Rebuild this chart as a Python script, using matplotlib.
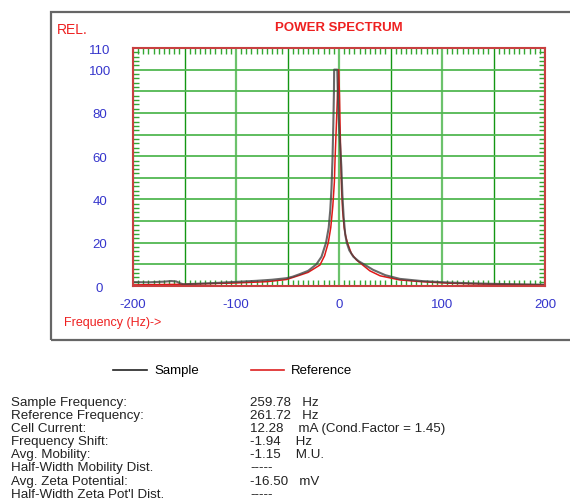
import numpy as np
import matplotlib
matplotlib.use('Agg')
import matplotlib.pyplot as plt
from matplotlib.ticker import MultipleLocator
from matplotlib.patches import Rectangle

plt.rcParams['font.family'] = ['Liberation Sans', 'DejaVu Sans']

# sample spectrum (grey), Hz / rel.
sample_hz = [-200, -185, -170, -163, -158, -154, -151, -140, -120, -100, -80, -65, -51, -45, -38,
             -30, -22, -17, -12.6, -10, -8.5, -7.3, -6.3, -5.5, -4.9, -4.7, -1.7, -1.3, -0.5, 0.5,
             1.5, 2.3, 3.3, 4.5, 6, 7.5, 10, 14, 19, 25, 33, 45, 59, 80, 106, 140, 170, 200]
sample_val = [1.8, 1.7, 2.0, 2.3, 2.1, 1.2, 0.8, 1.0, 1.4, 1.9, 2.4, 2.9, 3.6, 4.3, 5.5,
              7.0, 10, 13.5, 20, 27, 35, 45, 59, 75, 90, 100, 100, 92, 80, 70,
              62, 55, 42, 32, 24, 20, 16.5, 13.5, 11.5, 9.8, 7.5, 5.0, 3.3, 2.3, 1.6, 1.1, 0.8, 0.6]

# reference spectrum (red)
ref_hz = [-200, -150, -100, -70, -51, -38, -30, -18.5, -14, -10.4, -8, -6, -4.5, -3.8, -2.5,
          -1.5, -0.3, 0.5, 1.0, 1.7, 2.5, 3.5, 5, 6.5, 8.4, 12, 17, 23, 30, 40, 59, 80,
          106, 140, 170, 200]
ref_val = [0.5, 0.8, 1.4, 2.0, 3.0, 5.0, 6.3, 9.7, 14, 20, 27, 37, 48, 59, 75,
           88, 100, 88, 75, 59, 45, 35, 27, 23, 19.7, 15, 12, 9.7, 7, 4.7, 2.8, 2.0,
           1.3, 0.9, 0.7, 0.5]

x_ticks = [-200, -150, -100, -50, 0, 50, 100, 150, 200]
x_labels = ['-200', '', '-100', '', '0', '', '100', '', '200']
y_ticks = [0, 10, 20, 30, 40, 50, 60, 70, 80, 90, 100, 110]
y_labels = ['0', '', '20', '', '40', '', '60', '', '80', '', '100', '110']

info_names = ['Sample Frequency:', 'Reference Frequency:', 'Cell Current:', 'Frequency Shift:',
              'Avg. Mobility:', 'Half-Width Mobility Dist.', 'Avg. Zeta Potential:',
              "Half-Width Zeta Pot'l Dist."]
info_values = ['259.78   Hz', '261.72   Hz', '12.28    mA (Cond.Factor = 1.45)', '-1.94    Hz',
               '-1.15    M.U.', '-----', '-16.50   mV', '-----']

red = '#ee2020'
blue = '#3535cc'
W, H = 570, 502

fig = plt.figure(figsize=(W / 100, H / 100), dpi=100)
ax = fig.add_axes([133 / W, 1 - 287 / H, 412 / W, 238 / H])

ax.plot(ref_hz, ref_val, color='#e01818', lw=1.1, zorder=4)
ax.plot(sample_hz, sample_val, color='#444444', lw=1.5, alpha=0.8, zorder=5)

ax.set_xlim(-200, 200)
ax.set_ylim(0, 110)
ax.set_xticks(x_ticks)
ax.set_xticklabels(x_labels)
ax.set_yticks(y_ticks)
ax.set_yticklabels(y_labels)
ax.xaxis.set_minor_locator(MultipleLocator(5))
ax.yaxis.set_minor_locator(MultipleLocator(2))

ax.tick_params(which='major', length=0, labelsize=9.5, labelcolor=blue)
ax.tick_params(axis='y', which='major', pad=24)
ax.tick_params(axis='x', which='major', pad=9)
for lab in ax.get_yticklabels():
    lab.set_horizontalalignment('center')
ax.tick_params(which='minor', direction='in', length=4, width=1, color='#33a833',
               top=True, right=True, bottom=True, left=True)

ax.grid(True, which='major', zorder=1)
for i, gl in enumerate(ax.get_xgridlines()):
    if i % 2 == 0:
        gl.set_color('#6cc26c')
        gl.set_linewidth(1.6)
    else:
        gl.set_color('#139613')
        gl.set_linewidth(1.0)
for gl in ax.get_ygridlines():
    gl.set_color('#52b852')
    gl.set_linewidth(1.3)

for s in ax.spines.values():
    s.set_color('#c84040')
    s.set_linewidth(1.5)
    s.set_zorder(6)

fig.text(57 / W, 1 - 30 / H, 'REL.', color=red, fontsize=10, va='center', ha='left')
fig.text(339 / W, 1 - 28 / H, 'POWER SPECTRUM', color=red, fontsize=9.5, fontweight='bold',
         va='center', ha='center')
fig.text(64 / W, 1 - 323 / H, 'Frequency (Hz)->', color=red, fontsize=9, va='center', ha='left')

# outer frame
fig.add_artist(Rectangle((51 / W, 1 - 341 / H), 1, (341 - 13) / H, transform=fig.transFigure,
                         fill=False, edgecolor='#666666', lw=1.6))

# legend row
fig.add_artist(plt.Line2D([113 / W, 147 / W], [1 - 371 / H] * 2, color='#222222', lw=1.2))
fig.text(154 / W, 1 - 371 / H, 'Sample', fontsize=9.5, va='center', ha='left')
fig.add_artist(plt.Line2D([251 / W, 284 / W], [1 - 371 / H] * 2, color='#dd2020', lw=1.2))
fig.text(291 / W, 1 - 371 / H, 'Reference', fontsize=9.5, va='center', ha='left')

for i, (name, val) in enumerate(zip(info_names, info_values)):
    y = 1 - (403 + 13.1 * i) / H
    fig.text(11 / W, y, name, fontsize=9.6, va='center', ha='left', color='#222222')
    fig.text(250 / W, y, val, fontsize=9.6, va='center', ha='left', color='#222222')

fig.savefig('out.png', dpi=100)
